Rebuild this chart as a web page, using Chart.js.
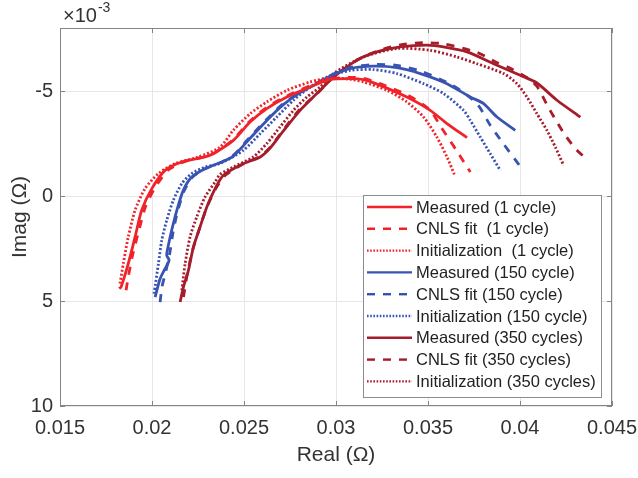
<!DOCTYPE html>
<html><head><meta charset="utf-8">
<script src="https://cdn.jsdelivr.net/npm/chart.js@4.4.1/dist/chart.umd.min.js"></script>
<style>html,body{margin:0;padding:0;background:#fff;}#wrap{width:638px;height:478px;}</style>
</head><body><div id="wrap"><canvas id="c" width="638" height="478"></canvas></div>
<script>
// Real part (Ohm) and imaginary part (x 10^-3 Ohm) for each curve
const reMeas1 = [0.01822,0.01832,0.01871,0.01908,0.01944,0.01999,0.02071,0.02162,0.02288,0.02334,0.02442,0.02533,0.02624,0.02733,0.02859,0.02968,0.03077,0.03149,0.0324,0.03385,0.03512,0.03603,0.03712];
const imMeas1 = [4.41,4.33,3.22,1.95,0.68,-0.35,-1.22,-1.62,-1.86,-2.02,-2.65,-3.52,-4.16,-4.71,-5.19,-5.55,-5.59,-5.54,-5.27,-4.71,-4.08,-3.45,-2.78];
const reFit1 = [0.01859,0.01872,0.01895,0.0193,0.01965,0.0202,0.0209,0.0218,0.0229,0.0234,0.0244,0.0253,0.0262,0.0273,0.0286,0.0297,0.0308,0.0315,0.0324,0.0339,0.0351,0.0357,0.0366,0.0373];
const imFit1 = [4.49,3.8,2.8,1.6,0.5,-0.45,-1.25,-1.65,-1.88,-2.05,-2.68,-3.55,-4.2,-4.75,-5.25,-5.58,-5.65,-5.6,-5.35,-4.8,-4.1,-3.29,-2.1,-1.14];
const reInit1 = [0.01826,0.01844,0.01871,0.01908,0.01962,0.02035,0.02125,0.02252,0.0237,0.02442,0.02533,0.02624,0.02733,0.02859,0.0297,0.0308,0.0315,0.03277,0.03385,0.03476,0.03548,0.03603,0.03643];
const imInit1 = [4.17,3.22,1.95,0.68,-0.35,-1.07,-1.54,-1.86,-2.33,-3.13,-3.92,-4.48,-5.03,-5.43,-5.62,-5.55,-5.43,-5.03,-4.48,-3.76,-2.81,-1.86,-1.03];

const reMeas150 = [0.02017,0.02044,0.02071,0.02093,0.0208,0.02089,0.02107,0.02135,0.0217,0.02216,0.02288,0.02379,0.02442,0.02533,0.02624,0.02714,0.02805,0.02896,0.02986,0.03077,0.03204,0.03331,0.03458,0.03603,0.0373,0.03802,0.03875,0.03974];
const imMeas150 = [4.81,3.94,3.46,3.06,2.82,2.35,1.63,0.68,-0.27,-0.90,-1.30,-1.62,-1.9,-2.75,-3.6,-4.35,-4.92,-5.35,-5.78,-6.07,-6.18,-6.11,-5.83,-5.35,-4.71,-4.40,-3.76,-3.13];
const reFit150 = [0.02044,0.02055,0.02075,0.02095,0.02115,0.0214,0.02175,0.0222,0.0229,0.0238,0.0244,0.0253,0.0262,0.0271,0.0281,0.029,0.0299,0.0308,0.032,0.0333,0.0346,0.036,0.0369,0.03773,0.03838,0.03909,0.04001];
const imFit150 = [5.05,4.3,3.6,2.8,1.7,0.7,-0.25,-0.9,-1.3,-1.62,-1.92,-2.78,-3.62,-4.38,-4.96,-5.4,-5.82,-6.12,-6.26,-6.22,-5.95,-5.42,-4.95,-4.32,-3.37,-2.5,-1.41];
const reInit150 = [0.02011,0.02035,0.02053,0.0208,0.02116,0.02162,0.02216,0.02288,0.0237,0.02497,0.02588,0.02678,0.02769,0.02859,0.0295,0.03077,0.03204,0.03331,0.03476,0.03584,0.03693,0.0373,0.03784,0.03838,0.03893];
const imInit150 = [4.65,3.22,2.11,1.16,0.20,-0.59,-1.07,-1.38,-1.55,-2.18,-2.97,-3.76,-4.56,-5.19,-5.67,-5.98,-6.02,-5.83,-5.35,-4.88,-4.08,-3.6,-2.81,-2.02,-1.22];

const reMeas350 = [0.02153,0.02171,0.02198,0.02225,0.02261,0.02298,0.02343,0.02388,0.02497,0.02588,0.02642,0.02714,0.02805,0.02896,0.02986,0.03113,0.03222,0.03349,0.03494,0.03584,0.03712,0.03856,0.04001,0.04092,0.04201,0.04328];
const imMeas350 = [5.05,4.33,3.54,2.43,1.48,0.52,-0.35,-0.99,-1.54,-1.86,-2.28,-3.1,-4.08,-4.88,-5.65,-6.46,-6.86,-7.10,-7.18,-7.10,-6.86,-6.30,-5.75,-5.38,-4.56,-3.76];
const reFit350 = [0.02171,0.0219,0.0222,0.0226,0.023,0.0235,0.024,0.025,0.0259,0.0264,0.0271,0.028,0.029,0.0299,0.0312,0.0323,0.0335,0.0347,0.0358,0.03766,0.03882,0.03936,0.04045,0.04094,0.04148,0.04192,0.04246,0.043,0.04364];
const imFit350 = [4.81,3.8,2.6,1.5,0.5,-0.4,-1.0,-1.55,-1.9,-2.3,-3.1,-4.1,-4.9,-5.7,-6.5,-6.92,-7.2,-7.3,-7.25,-6.84,-6.32,-6.13,-5.6,-5.2,-4.32,-3.65,-2.89,-2.27,-1.73];
const reInit350 = [0.02162,0.0218,0.02207,0.02243,0.02288,0.02343,0.0237,0.02442,0.02551,0.02624,0.02696,0.02769,0.02841,0.02914,0.02986,0.03149,0.03331,0.03512,0.03657,0.03766,0.03911,0.03983,0.04038,0.04092,0.04146,0.04192,0.04237];
const imInit350 = [4.49,3.22,1.95,1.00,0.05,-0.67,-1.03,-1.38,-1.86,-2.50,-3.29,-4.08,-4.71,-5.19,-5.83,-6.62,-7.02,-6.94,-6.62,-6.30,-5.83,-5.35,-4.71,-3.92,-3.13,-2.33,-1.46];

const seriesLabels = ["Measured (1 cycle)","CNLS fit  (1 cycle)","Initialization  (1 cycle)","Measured (150 cycle)","CNLS fit (150 cycle)","Initialization (150 cycle)","Measured (350 cycles)","CNLS fit (350 cycles)","Initialization (350 cycles)"];
const xTicks = [0.015,0.02,0.025,0.03,0.035,0.04,0.045];
const yTicks = [-5,0,5,10];

const RED = '#f0232a', BLUE = '#3953b3', DRED = '#a51c2a';
const FONT = '"Liberation Sans", Arial, Helvetica, sans-serif';

function pts(xs, ys){ return xs.map((x,i)=>({x:x, y:ys[i]})); }
const styles = [
  {c:RED, d:[]},{c:RED, d:[8,8]},{c:RED, d:[2,2]},
  {c:BLUE,d:[]},{c:BLUE,d:[8,8]},{c:BLUE,d:[2,2]},
  {c:DRED,d:[]},{c:DRED,d:[8,8]},{c:DRED,d:[2,2]}
];
const raw = [[reMeas1,imMeas1],[reFit1,imFit1],[reInit1,imInit1],[reMeas150,imMeas150],[reFit150,imFit150],[reInit150,imInit150],[reMeas350,imMeas350],[reFit350,imFit350],[reInit350,imInit350]];
const datasets = raw.map((r,i)=>({
  label: seriesLabels[i],
  data: pts(r[0], r[1]),
  showLine: true, pointRadius: 0, borderColor: styles[i].c, backgroundColor: styles[i].c,
  borderWidth: 2.8,
  borderDash: styles[i].d, borderCapStyle: 'butt', tension: 0.25, fill: false
}));

const framePlugin = {
  id: 'frame',
  afterDraw(chart){
    const ctx = chart.ctx, a = chart.chartArea, xs = chart.scales.x, ys = chart.scales.y;
    ctx.save();
    ctx.strokeStyle = '#858585'; ctx.lineWidth = 1;
    ctx.strokeRect(Math.round(a.left)+0.5, Math.round(a.top)+0.5, Math.round(a.right-a.left)-1, Math.round(a.bottom-a.top)-1);
    ctx.beginPath();
    xTicks.forEach(v=>{ const p = Math.round(xs.getPixelForValue(v))+0.5; ctx.moveTo(p,a.top); ctx.lineTo(p,a.top+5); ctx.moveTo(p,a.bottom); ctx.lineTo(p,a.bottom-5); });
    yTicks.forEach(v=>{ const p = Math.round(ys.getPixelForValue(v))+0.5; ctx.moveTo(a.left,p); ctx.lineTo(a.left+5,p); ctx.moveTo(a.right,p); ctx.lineTo(a.right-5,p); });
    ctx.stroke();
    // exponent label
    ctx.fillStyle = '#333'; ctx.textBaseline = 'alphabetic'; ctx.textAlign = 'left';
    ctx.font = '20px ' + FONT;
    ctx.fillText('\u00d710', a.left+3, a.top-6);
    const w = ctx.measureText('\u00d710').width;
    ctx.font = '14px ' + FONT;
    ctx.fillText('-3', a.left+3+w+1, a.top-16);
    // legend
    const bx = a.right-249, by = a.bottom-211, bw = 238, bh = 202;
    ctx.fillStyle = '#fff'; ctx.fillRect(bx, by, bw, bh);
    ctx.strokeStyle = '#8c8c8c'; ctx.lineWidth = 1;
    ctx.strokeRect(bx+0.5, by+0.5, bw, bh);
    ctx.font = '16.5px ' + FONT; ctx.textBaseline = 'middle';
    chart.data.datasets.forEach((ds,i)=>{
      const yy = by + 12 + i*21.8;
      ctx.beginPath(); ctx.strokeStyle = ds.borderColor; ctx.lineWidth = 2.4;
      ctx.setLineDash(ds.borderDash.length && ds.borderDash[0] === 2 ? [1.6,1.6] : ds.borderDash); ctx.lineCap = 'butt';
      ctx.moveTo(bx+4, yy); ctx.lineTo(bx+49, yy); ctx.stroke();
      ctx.setLineDash([]);
      ctx.fillStyle = '#222'; ctx.fillText(ds.label, bx+53, yy+1);
    });
    ctx.restore();
  }
};

new Chart(document.getElementById('c'), {
  type: 'scatter',
  data: { datasets: datasets },
  plugins: [framePlugin],
  options: {
    responsive: false, animation: false, devicePixelRatio: 1,
    layout: { padding: { top: 28, right: 26, left: 0, bottom: 0 } },
    plugins: { legend: { display: false }, tooltip: { enabled: false } },
    scales: {
      x: {
        type: 'linear', min: 0.015, max: 0.045,
        afterBuildTicks: s => { s.ticks = xTicks.map(v=>({value:v})); },
        afterFit: s => { s.height = 72; s.paddingLeft = 0; s.paddingRight = 0; },
        grid: { color: '#e6e6e6', drawTicks: false },
        border: { display: false },
        ticks: { padding: 10, color: '#333', font: { size: 20, family: FONT }, maxRotation: 0,
          callback: v => String(Number(v.toFixed(3))) },
        title: { display: true, text: 'Real (\u03a9)', color: '#333', font: { size: 21, family: FONT }, padding: { top: 0, bottom: 10 } }
      },
      y: {
        type: 'linear', min: -8, max: 10, reverse: true,
        afterBuildTicks: s => { s.ticks = yTicks.map(v=>({value:v})); },
        afterFit: s => { s.width = 60; s.paddingTop = 0; s.paddingBottom = 0; },
        grid: { color: '#e6e6e6', drawTicks: false },
        border: { display: false },
        ticks: { padding: 7, color: '#333', font: { size: 20, family: FONT }, callback: v => String(v) },
        title: { display: true, text: 'Imag (\u03a9)', color: '#333', font: { size: 21, family: FONT }, padding: { top: 8, bottom: 0 } }
      }
    }
  }
});
</script></body></html>
